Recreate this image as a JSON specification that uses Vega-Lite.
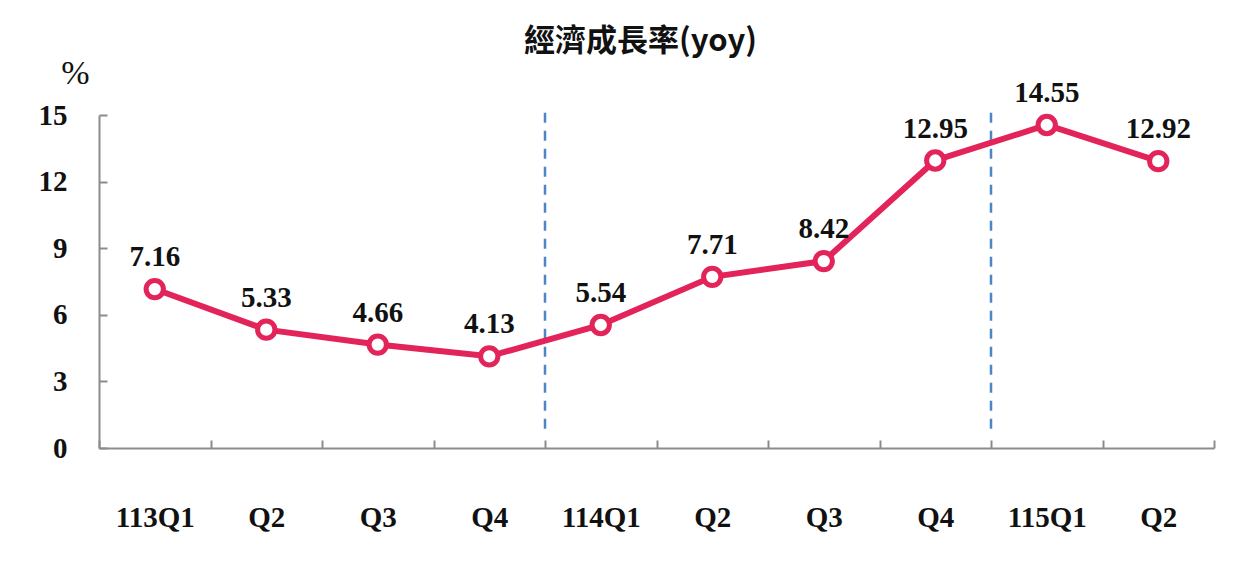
{
  "$schema": "https://vega.github.io/schema/vega-lite/v6.json",
  "autosize": "none",
  "width": 1115,
  "height": 333,
  "padding": {"left": 99, "top": 115, "right": 38, "bottom": 122},
  "background": "white",
  "title": {
    "text": "經濟成長率(yoy)",
    "font": "Noto Sans CJK TC",
    "fontSize": 31,
    "fontWeight": "bold",
    "color": "#111111",
    "anchor": "middle",
    "dx": -16,
    "offset": -2
  },
  "config": {
    "view": {"stroke": null},
    "axis": {
      "labelFont": "Liberation Serif",
      "labelFontWeight": "bold",
      "labelFontSize": 29,
      "labelColor": "#111111",
      "domainColor": "#8c8c8c",
      "domainWidth": 2,
      "tickColor": "#8c8c8c",
      "tickWidth": 2,
      "grid": false
    }
  },
  "datasets": {
    "gdp": [
      {"quarter": "113Q1", "yoy": 7.16},
      {"quarter": "113Q2", "yoy": 5.33},
      {"quarter": "113Q3", "yoy": 4.66},
      {"quarter": "113Q4", "yoy": 4.13},
      {"quarter": "114Q1", "yoy": 5.54},
      {"quarter": "114Q2", "yoy": 7.71},
      {"quarter": "114Q3", "yoy": 8.42},
      {"quarter": "114Q4", "yoy": 12.95},
      {"quarter": "115Q1", "yoy": 14.55},
      {"quarter": "115Q2", "yoy": 12.92}
    ],
    "years": [
      {"quarter": "114Q1"},
      {"quarter": "115Q1"}
    ]
  },
  "layer": [
    {
      "data": {"name": "years"},
      "mark": {"type": "rule", "color": "#4a86c8", "strokeWidth": 2.5, "strokeDash": [10, 8]},
      "encoding": {
        "x": {"field": "quarter", "type": "ordinal", "bandPosition": 0},
        "y": {"datum": 15.1, "type": "quantitative"},
        "y2": {"datum": 0.8}
      }
    },
    {
      "data": {"name": "gdp"},
      "encoding": {
        "x": {
          "field": "quarter",
          "type": "ordinal",
          "scale": {"paddingInner": 0, "paddingOuter": 0},
          "axis": {
            "orient": "bottom",
            "title": null,
            "labelAngle": 0,
            "labelAlign": "center",
            "labelPadding": 77,
            "tickSize": -8,
            "tickBand": "extent",
            "labelExpr": "isString(datum.value) ? (substring(datum.value, 3) == 'Q1' ? datum.value : substring(datum.value, 3)) : ''"
          }
        },
        "y": {
          "field": "yoy",
          "type": "quantitative",
          "scale": {"domain": [0, 15], "nice": false},
          "axis": {
            "values": [0, 3, 6, 9, 12, 15],
            "tickSize": -8,
            "labelPadding": 40,
            "title": "%",
            "titleAngle": 0,
            "titleFont": "Liberation Serif",
            "titleFontSize": 34,
            "titleFontWeight": "normal",
            "titleColor": "#111111",
            "titleX": -24,
            "titleY": -42,
            "titleAlign": "center",
            "titleBaseline": "middle"
          }
        }
      },
      "layer": [
        {
          "mark": {"type": "line", "color": "#e2245a", "strokeWidth": 6}
        },
        {
          "mark": {"type": "point", "shape": "circle", "filled": true, "fill": "white", "stroke": "#e2245a", "strokeWidth": 5, "size": 300, "opacity": 1}
        },
        {
          "mark": {"type": "text", "font": "Liberation Serif", "fontWeight": "bold", "fontSize": 29, "color": "#111111", "baseline": "middle", "dy": -32},
          "encoding": {"text": {"field": "yoy", "type": "quantitative", "format": ".2f"}}
        }
      ]
    }
  ]
}
